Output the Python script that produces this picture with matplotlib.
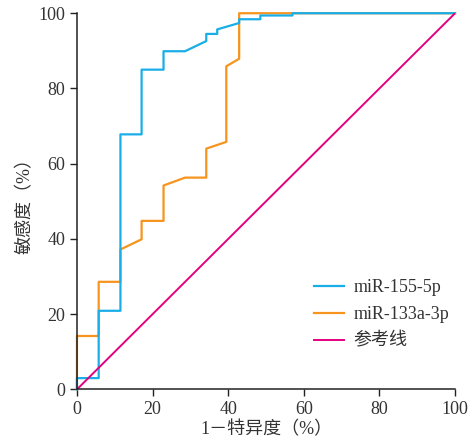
import matplotlib
matplotlib.use('Agg')
import matplotlib.pyplot as plt

plt.rcParams['font.family'] = ['Liberation Serif', 'Noto Sans CJK SC']

# ROC curves (1-specificity %, sensitivity %)
fpr_155 = [0, 0, 5.75, 5.75, 11.5, 11.5, 17.1, 17.1, 22.9, 22.9, 28.6, 34.2, 34.2, 37.1, 37.1, 42.9, 42.9, 48.5, 48.5, 57.0, 57.0, 100]
tpr_155 = [0, 3.0, 3.0, 20.9, 20.9, 67.8, 67.8, 85.0, 85.0, 89.9, 89.9, 92.6, 94.5, 94.5, 95.7, 97.4, 98.4, 98.4, 99.4, 99.4, 100, 100]

fpr_133 = [0, 0, 5.75, 5.75, 11.5, 11.5, 17.1, 17.1, 22.9, 22.9, 28.6, 34.2, 34.2, 39.5, 39.5, 42.9, 42.9, 100]
tpr_133 = [0, 14.2, 14.2, 28.6, 28.6, 37.2, 39.9, 44.8, 44.8, 54.2, 56.3, 56.3, 64.0, 65.8, 85.9, 87.9, 100, 100]

ref_x = [0, 100]
ref_y = [0, 100]

ticks = [0, 20, 40, 60, 80, 100]

fig = plt.figure(figsize=(4.75, 4.41), dpi=100)
ax = fig.add_axes([0.162, 0.117, 0.796, 0.853])

l2, = ax.plot(fpr_133, tpr_133, color='#f7941d', lw=1.6, label='miR-133a-3p', clip_on=False)
l1, = ax.plot(fpr_155, tpr_155, color='#1aaee8', lw=1.6, label='miR-155-5p', clip_on=False)
l3, = ax.plot(ref_x, ref_y, color='#e4007f', lw=1.4, label='参考线')

ax.set_xlim(0, 100)
ax.set_ylim(0, 100)
ax.set_xticks(ticks)
ax.set_yticks(ticks)
ax.tick_params(labelsize=13, direction='out', length=5, width=1, colors='#222222', labelcolor='#333333')
for s in ['top', 'right']:
    ax.spines[s].set_visible(False)
for s in ['left', 'bottom']:
    ax.spines[s].set_linewidth(1.1)
    ax.spines[s].set_color('#222222')

ax.set_xlabel('1－特异度（%）', fontsize=13, color='#333333', labelpad=2)
ax.set_ylabel('敏感度（%）', fontsize=13, color='#333333', labelpad=3)

ax.legend(handles=[l1, l2, l3], loc='lower right', bbox_to_anchor=(1.027, 0.062), frameon=False, fontsize=13,
          handlelength=1.7, handletextpad=0.5, labelspacing=0.55, labelcolor='#333333')

fig.savefig('out.png', dpi=100)
